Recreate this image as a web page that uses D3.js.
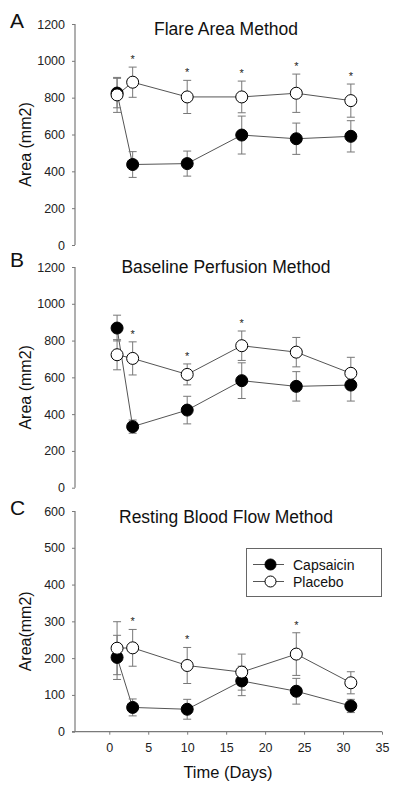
<!DOCTYPE html>
<html>
<head>
<meta charset="utf-8">
<script src="https://cdn.jsdelivr.net/npm/d3@7"></script>
<style>
  body { margin: 0; background: #fff; }
  svg { display: block; font-family: "Liberation Sans", Arial, sans-serif; }
</style>
</head>
<body>
<svg id="chart" width="400" height="793"></svg>
<script>
// ---- Data ----
const days = [1, 3, 10, 17, 24, 31];

const panelLetters = ["A", "B", "C"];
const panelTitles = ["Flare Area Method", "Baseline Perfusion Method", "Resting Blood Flow Method"];
const yLabels = ["Area (mm2)", "Area (mm2)", "Area(mm2)"];
const yMaxes = [1200, 1200, 600];
const yTickSteps = [200, 200, 100];

const capsA = [825, 437, 442, 597, 577, 590];
const capsAErr = [80, 70, 68, 103, 85, 85];
const placA = [815, 884, 804, 804, 824, 784];
const placAErr = [95, 82, 90, 86, 104, 90];
const starsA = [3, 10, 17, 24, 31];

const capsB = [868, 332, 422, 582, 551, 558];
const capsBErr = [70, 36, 75, 97, 80, 87];
const placB = [723, 703, 616, 772, 737, 622];
const placBErr = [82, 90, 57, 80, 80, 87];
const starsB = [3, 10, 17];

const capsC = [202, 66, 61, 138, 110, 70];
const capsCErr = [60, 23, 27, 40, 35, 18];
const placC = [227, 228, 180, 162, 211, 133];
const placCErr = [72, 50, 49, 49, 58, 30];
const starsC = [3, 10, 24];

const xTicks = [0, 5, 10, 15, 20, 25, 30, 35];
const seriesNames = ["Capsaicin", "Placebo"];
const xTitle = "Time (Days)";

// ---- Layout ----
const svg = d3.select("#chart");
const axisColor = "#7a7a7a";
const lineColor = "#555";
const errColor = "#777";
const R = 6;

const x = d3.scaleLinear().domain([-4.4, 35]).range([75, 382]);

const panels = [
  { caps: capsA, capsErr: capsAErr, plac: placA, placErr: placAErr, stars: starsA, top: 24, bottom: 245 },
  { caps: capsB, capsErr: capsBErr, plac: placB, placErr: placBErr, stars: starsB, top: 267, bottom: 487.7 },
  { caps: capsC, capsErr: capsCErr, plac: placC, placErr: placCErr, stars: starsC, top: 511, bottom: 731.7 }
];
const titleY = [35, 272.5, 522.5];
const letterY = [28, 267, 515];

panels.forEach((p, i) => {
  const y = d3.scaleLinear().domain([0, yMaxes[i]]).range([p.bottom, p.top]);
  const g = svg.append("g");

  // y axis
  const yAxis = d3.axisLeft(y)
    .tickValues(d3.range(0, yMaxes[i] + 1, yTickSteps[i]))
    .tickFormat(d3.format("d"))
    .tickSize(3).tickPadding(7);
  const ya = g.append("g").attr("transform", "translate(75,0)").call(yAxis);
  ya.select(".domain").attr("stroke", axisColor).attr("stroke-width", 1.2).attr("d", `M-0,${p.top}V${p.bottom}`);
  ya.selectAll(".tick line").attr("stroke", axisColor);
  ya.selectAll(".tick text").attr("fill", "#222").style("font-size", "12.5px");

  // x axis only for last panel
  if (i === 2) {
    const xAxis = d3.axisBottom(x).tickValues(xTicks).tickFormat(d3.format("d")).tickSize(3).tickPadding(8);
    const xa = g.append("g").attr("transform", `translate(0,${p.bottom})`).call(xAxis);
    xa.select(".domain").attr("stroke", axisColor).attr("stroke-width", 1.2).attr("d", `M72,0H382`);
    xa.selectAll(".tick line").attr("stroke", axisColor);
    xa.selectAll(".tick text").attr("fill", "#222").style("font-size", "12.5px");
    g.append("text").attr("x", 228).attr("y", 778).attr("text-anchor", "middle")
      .style("font-size", "16.5px").attr("fill", "#111").text(xTitle);
  }

  // title, letter, y label
  g.append("text").attr("x", 226).attr("y", titleY[i]).attr("text-anchor", "middle")
    .style("font-size", "17.5px").attr("fill", "#111").text(panelTitles[i]);
  g.append("text").attr("x", 10).attr("y", letterY[i])
    .style("font-size", "21px").attr("fill", "#111").text(panelLetters[i]);
  const cy = (p.top + p.bottom) / 2 + 10;
  g.append("text").attr("transform", `translate(31,${cy}) rotate(-90)`).attr("text-anchor", "middle")
    .style("font-size", "16px").attr("fill", "#111").text(yLabels[i]);

  const line = d3.line().x((d, k) => x(days[k])).y(d => y(d));
  const series = [
    { vals: p.caps, err: p.capsErr, fill: "#000" },
    { vals: p.plac, err: p.placErr, fill: "#fff" }
  ];
  // lines
  series.forEach(s => {
    g.append("path").datum(s.vals).attr("d", line)
      .attr("fill", "none").attr("stroke", lineColor).attr("stroke-width", 1);
  });
  // error bars
  series.forEach(s => {
    s.vals.forEach((v, k) => {
      const cx = x(days[k]);
      const y1 = y(v + s.err[k]), y2 = y(v - s.err[k]);
      g.append("line").attr("x1", cx).attr("x2", cx).attr("y1", y1).attr("y2", y2)
        .attr("stroke", errColor).attr("stroke-width", 1);
      [y1, y2].forEach(yy => {
        g.append("line").attr("x1", cx - 4).attr("x2", cx + 4).attr("y1", yy).attr("y2", yy)
          .attr("stroke", errColor).attr("stroke-width", 1);
      });
    });
  });
  // points
  series.forEach(s => {
    g.selectAll(null).data(s.vals).enter().append("circle")
      .attr("cx", (d, k) => x(days[k])).attr("cy", d => y(d)).attr("r", R)
      .attr("fill", s.fill).attr("stroke", "#000").attr("stroke-width", 1);
  });
  // asterisks
  p.stars.forEach(day => {
    const k = days.indexOf(day);
    const top = y(p.plac[k] + p.placErr[k]);
    g.append("text").attr("x", x(day)).attr("y", top - 4).attr("text-anchor", "middle")
      .style("font-size", "11px").attr("fill", "#222").text("*");
  });

  // legend in panel C
  if (i === 2) {
    const lg = g.append("g");
    lg.append("rect").attr("x", 246.5).attr("y", 548.5).attr("width", 135).attr("height", 48)
      .attr("fill", "#fff").attr("stroke", "#666").attr("stroke-width", 1);
    const ly = [564.5, 581.5];
    seriesNames.forEach((n, j) => {
      lg.append("line").attr("x1", 253).attr("x2", 284).attr("y1", ly[j]).attr("y2", ly[j])
        .attr("stroke", lineColor).attr("stroke-width", 1);
      lg.append("circle").attr("cx", 270.5).attr("cy", ly[j]).attr("r", 5.5)
        .attr("fill", j === 0 ? "#000" : "#fff").attr("stroke", "#000");
      lg.append("text").attr("x", 293).attr("y", ly[j] + 5).style("font-size", "14px")
        .attr("fill", "#111").text(n);
    });
  }
});
</script>
</body>
</html>
